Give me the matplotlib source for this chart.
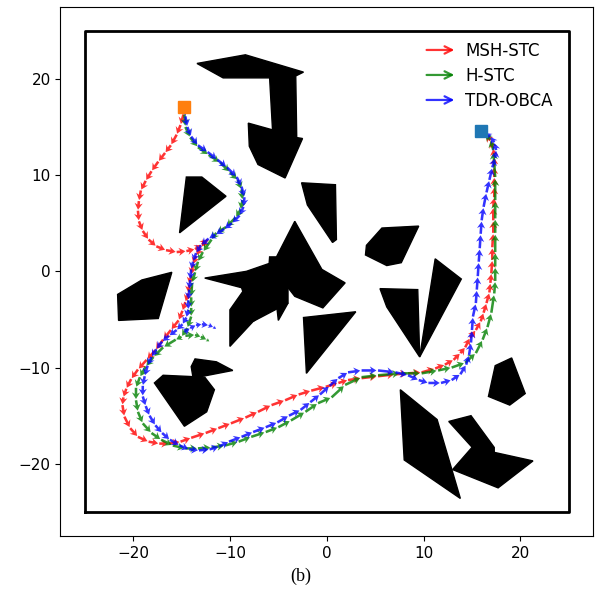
import numpy as np
import matplotlib
matplotlib.use("Agg")
import matplotlib.pyplot as plt
from matplotlib.legend_handler import HandlerBase
from matplotlib.patches import FancyArrowPatch
from matplotlib.lines import Line2D

# obstacles (polygon vertices, map units)
obstacles = [
    [(-13.4, 21.6), (-8.4, 22.5), (-2.4, 20.7), (-3.2, 20.3), (-3.1, 13.9), (-2.5, 13.8),
     (-4.3, 9.7), (-7.1, 11.1), (-8.0, 13.0), (-8.1, 15.4), (-5.6, 14.7), (-5.9, 20.1), (-10.7, 20.1)],
    [(-14.5, 9.8), (-12.9, 9.8), (-10.4, 7.8), (-15.2, 4.0)],
    [(-21.6, -2.4), (-19.1, -0.9), (-16.0, -0.1), (-17.4, -4.9), (-21.5, -5.1)],
    [(-17.8, -11.6), (-16.9, -10.8), (-12.6, -11.0), (-11.6, -12.3), (-12.4, -14.6), (-14.7, -16.1)],
    [(-13.6, -9.1), (-11.4, -9.4), (-9.7, -10.3), (-13.8, -11.1), (-14.0, -9.9)],
    [(-3.3, 5.2), (-0.5, 0.2), (1.9, -1.2), (-0.4, -3.8), (-3.3, -2.6), (-5.7, 0.5)],
    [(-12.6, -0.7), (-8.3, 0.0), (-6.0, 0.8), (-4.0, 0.3), (-4.0, -3.3), (-7.6, -5.2), (-8.8, -1.7)],
    [(-10.0, -4.0), (-10.0, -7.8), (-7.6, -5.2), (-5.0, -3.3), (-8.6, -2.0)],
    [(-5.2, -3.3), (-5.0, -5.1), (-4.0, -3.3)],
    [(-5.9, 1.5), (-5.3, 1.5), (-5.2, 0.1), (-6.0, 0.1)],
    [(-2.6, 9.2), (0.9, 9.0), (1.0, 3.3), (0.6, 3.0), (-2.0, 6.9)],
    [(-2.4, -4.8), (3.0, -4.2), (-2.1, -10.6)],
    [(4.1, 2.7), (5.7, 4.5), (9.5, 4.7), (7.7, 0.9), (6.2, 0.6), (4.0, 1.7)],
    [(5.5, -1.8), (9.4, -1.9), (9.6, -8.9), (6.2, -3.7)],
    [(11.2, 1.3), (13.9, -0.8), (9.6, -8.9)],
    [(17.4, -9.8), (19.1, -9.0), (20.5, -12.7), (18.9, -13.9), (16.7, -13.0)],
    [(7.6, -12.3), (11.4, -15.4), (13.8, -23.6), (8.0, -19.6)],
    [(12.6, -15.6), (14.9, -15.0), (17.3, -18.3), (17.3, -18.9), (15.3, -18.6)],
    [(15.0, -18.3), (21.3, -19.7), (17.7, -22.5), (13.0, -20.6)],
]

start_a = (-14.7, 17.1)
start_b = (15.9, 14.6)

# MSH-STC path
red_x = [-14.7, -14.8, -15.1, -15.5, -16.1, -16.7, -17.4, -18.1, -18.7, -19.2, -19.4, -19.5,
         -19.4, -19.0, -18.4, -17.6, -16.6, -15.5, -14.5, -13.6, -12.9, -12.3, -13.0, -13.5,
         -13.8, -14.0, -14.2, -14.3, -14.6, -14.9, -15.3, -16.1, -16.9, -17.7, -18.6, -19.5,
         -20.2, -20.7, -21.0, -21.1, -20.9, -20.3, -19.5, -18.4, -17.3, -16.3, -15.1, -14.0,
         -12.5, -11.2, -9.9, -8.4, -7.1, -5.7, -4.3, -2.9, -1.6, -0.1, 1.2, 2.2, 3.6, 5.3,
         7.1, 8.4, 9.8, 11.2, 12.2, 13.1, 13.8, 14.3, 14.8, 15.4, 15.9, 16.2, 16.5, 16.8,
         16.9, 17.0, 17.1, 17.1, 17.2, 17.2, 17.2, 17.3, 17.3, 17.3, 17.3, 17.3, 17.2, 16.9,
         16.4, 15.9]
red_y = [17.1, 16.3, 15.2, 14.2, 13.1, 12.3, 11.4, 10.4, 9.4, 8.4, 7.3, 6.3,
         5.2, 4.2, 3.3, 2.6, 2.2, 2.0, 2.1, 2.3, 2.8, 3.3, 2.5, 1.6,
         0.7, -0.4, -1.4, -2.3, -3.2, -4.1, -5.1, -6.1, -7.1, -8.2, -9.2, -10.2,
         -11.2, -12.2, -13.1, -13.9, -15.1, -16.3, -17.2, -17.7, -17.9, -17.9, -17.7, -17.3,
         -16.8, -16.3, -15.8, -15.2, -14.6, -13.9, -13.4, -12.8, -12.4, -12.0, -11.6, -11.3, -11.1, -10.9,
         -10.7, -10.6, -10.5, -10.1, -9.7, -9.2, -8.5, -7.9, -6.9, -6.1, -5.2, -4.3, -3.3, -2.2,
         -1.2, -0.2, 1.2, 2.5, 4.0, 5.3, 6.7, 7.7, 8.8, 9.8, 10.9, 11.9, 12.8, 13.6,
         14.2, 14.6]

# H-STC path
green_x = [-14.7, -14.7, -14.6, -14.1, -13.3, -12.2, -11.0, -10.0, -9.2, -8.8, -8.7, -8.9,
           -9.4, -10.4, -11.4, -11.9, -12.8, -13.3, -13.6, -13.9, -14.0, -14.0, -14.0, -14.4,
           -15.0, -15.6, -16.9, -17.9, -18.7, -19.3, -19.7, -19.7, -19.5, -19.0, -18.1, -17.1,
           -15.9, -14.6, -13.3, -11.9, -10.5, -9.1, -7.8, -6.3, -5.0, -3.7, -2.2, -0.9, 0.5,
           1.9, 3.6, 5.3, 7.7, 9.8, 11.5, 12.9, 14.3, 15.4, 16.1, 16.6, 17.0, 17.3, 17.4, 17.4,
           17.4, 17.4, 17.4, 17.4, 17.4, 17.2, 16.9, 16.3, 15.9]
green_y = [17.1, 16.3, 15.0, 13.9, 12.9, 12.1, 11.3, 10.3, 9.5, 8.5, 7.4, 6.4,
           5.6, 4.6, 4.0, 3.3, 2.0, 1.0, -0.1, -1.2, -2.7, -3.8, -4.7, -5.9,
           -6.8, -7.1, -7.9, -8.9, -9.9, -11.0, -12.1, -13.4, -14.6, -15.8, -16.8, -17.5,
           -18.1, -18.4, -18.4, -18.3, -18.1, -17.7, -17.2, -16.7, -16.2, -15.5, -14.6, -13.7, -13.1,
           -11.8, -11.0, -10.8, -10.6, -10.6, -10.3, -10.0, -9.5, -8.5, -7.1, -5.8, -4.3, -2.3, -1.0, 0.5,
           2.0, 4.0, 5.5, 7.4, 9.8, 12.6, 13.7, 14.3, 14.6]
green_tail_x = [-14.6, -13.6, -13.0, -12.4, -12.1]
green_tail_y = [-6.7, -6.6, -6.8, -7.1, -7.3]

# TDR-OBCA path
blue_x = [-14.7, -14.6, -14.4, -14.0, -13.3, -12.3, -11.3, -10.3, -9.3, -8.8, -8.5, -8.6,
          -9.0, -9.8, -10.6, -11.5, -12.2, -13.0, -13.5, -13.8, -14.0, -14.1, -14.2, -14.3,
          -14.3, -14.5, -14.9, -15.5, -16.3, -17.0, -17.6, -18.1, -18.5, -18.8, -19.0, -19.0,
          -18.7, -18.3, -17.7, -17.0, -16.2, -15.2, -14.2, -13.2, -12.1, -11.1, -10.1, -8.8,
          -7.6, -6.3, -5.1, -3.9, -2.7, -1.7, -0.7, 0.3, 1.2, 2.2, 3.6, 5.3, 7.1, 8.4, 9.5,
          10.5, 11.8, 12.9, 13.8, 14.4, 14.7, 14.9, 15.0, 15.1, 15.4, 15.5, 15.6, 15.7, 15.8,
          15.9, 16.0, 16.2, 16.5, 16.8, 17.1, 17.4, 17.5, 17.3, 16.9, 16.4, 15.9]
blue_y = [17.1, 16.1, 15.0, 14.0, 13.1, 12.4, 11.6, 10.8, 9.8, 8.8, 7.7, 6.7,
          5.8, 5.0, 4.4, 3.8, 3.4, 2.7, 1.9, 1.0, 0.2, -0.9, -1.9, -3.0,
          -4.0, -4.8, -5.5, -6.1, -6.7, -7.3, -8.1, -8.9, -9.8, -10.9, -11.9, -13.0,
          -14.0, -15.0, -16.0, -16.8, -17.5, -18.1, -18.5, -18.6, -18.5, -18.2, -17.7, -17.2,
          -16.7, -16.2, -15.7, -15.0, -14.4, -13.6, -12.8, -11.9, -11.1, -10.5, -10.3, -10.3, -10.5, -10.8, -11.3,
          -11.6, -11.6, -11.3, -10.7, -9.7, -8.7, -7.4, -6.1, -4.7, -3.3, -1.9, -0.5, 1.0, 2.4,
          3.9, 5.3, 6.7, 8.2, 9.5, 10.8, 11.8, 12.6, 13.4, 14.0, 14.4, 14.6]
blue_tail_x = [-14.7, -14.1, -13.5, -12.9, -12.2, -11.7, -11.4]
blue_tail_y = [-6.3, -5.9, -5.6, -5.5, -5.6, -5.8, -6.0]

labels = ["MSH-STC", "H-STC", "TDR-OBCA"]
colors = ["#ff0000", "#008000", "#0000ff"]


def draw_arrows(ax, xs, ys, color):
    # chain of small arrows, each one pointing to the next waypoint
    xs = np.asarray(xs, float)
    ys = np.asarray(ys, float)
    dx = np.diff(xs) * 0.9
    dy = np.diff(ys) * 0.9
    ax.quiver(xs[:-1], ys[:-1], dx, dy, color=color, alpha=0.8,
              angles="xy", scale_units="xy", scale=1, width=0.0048,
              headwidth=3.2, headlength=2.6, headaxislength=2.0, zorder=3)


class ArrowHandler(HandlerBase):
    def create_artists(self, legend, orig_handle, xdescent, ydescent, width, height, fontsize, trans):
        y = height / 2 - ydescent
        arr = FancyArrowPatch((-xdescent, y), (width - xdescent, y), arrowstyle="->",
                              mutation_scale=fontsize * 1.1, lw=1.6,
                              color=orig_handle.get_color(), alpha=0.8)
        arr.set_transform(trans)
        return [arr]


fig = plt.figure(figsize=(5.97, 5.91), dpi=100)
ax = fig.add_axes([0.1013, 0.0931, 0.892, 0.8956])

for poly in obstacles:
    px, py = zip(*poly)
    ax.fill(px, py, color="black", zorder=2)

ax.plot([-25, 25, 25, -25, -25], [-25, -25, 25, 25, -25], color="black", lw=2, zorder=2)

draw_arrows(ax, red_x, red_y, colors[0])
draw_arrows(ax, green_x, green_y, colors[1])
draw_arrows(ax, green_tail_x, green_tail_y, colors[1])
draw_arrows(ax, blue_x, blue_y, colors[2])
draw_arrows(ax, blue_tail_x, blue_tail_y, colors[2])

ax.plot(*start_a, marker="s", color="#ff7f0e", markersize=8, zorder=4)
ax.plot(*start_b, marker="s", color="#1f77b4", markersize=8, zorder=4)

handles = [Line2D([], [], color=c) for c in colors]
ax.legend(handles, labels, handler_map={Line2D: ArrowHandler()}, loc="upper right",
          bbox_to_anchor=(0.953, 0.962), frameon=False, fontsize=12,
          handlelength=2.0, handletextpad=0.5, labelspacing=0.42)

ax.set_xlim(-27.5, 27.5)
ax.set_ylim(-27.5, 27.5)
ax.set_xticks([-20, -10, 0, 10, 20])
ax.set_yticks([-20, -10, 0, 10, 20])
ax.tick_params(labelsize=11)

fig.text(0.503, 0.025, "(b)", ha="center", va="center", fontsize=13, family="Liberation Serif")

fig.savefig("out.png", dpi=100)
